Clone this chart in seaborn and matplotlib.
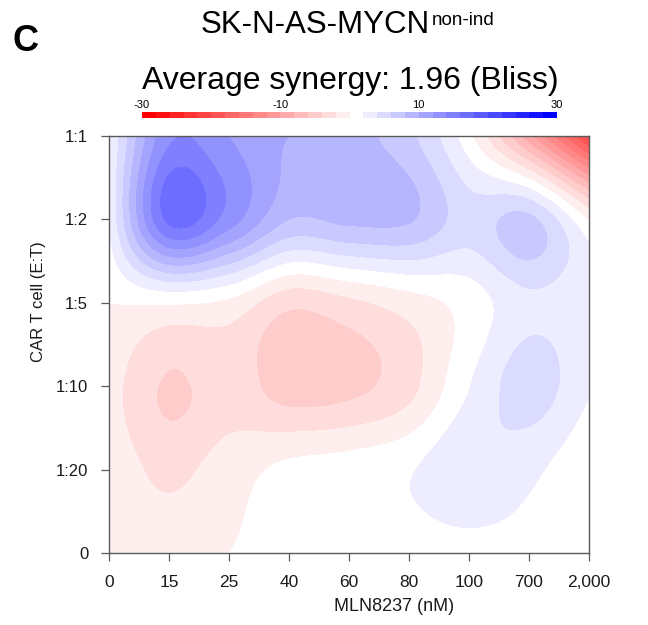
import numpy as np
import matplotlib
matplotlib.use("Agg")
import matplotlib.pyplot as plt
import seaborn as sns

# ---------------- data ----------------
x_doses = ['0', '15', '25', '40', '60', '80', '100', '700', '2,000']
et_ratios = ['0', '1:20', '1:10', '1:5', '1:2', '1:1']

# Bliss synergy scores, one list per E:T ratio (bottom row to top row),
# one value per MLN8237 dose (left to right)
syn_et_0    = [-0.8, -0.8, 0.0, 1.0, 1.0, 1.0, 1.0, 1.0, 1.0]
syn_et_1_20 = [-0.8, -2.5, -1.0, 0.5, 1.0, 1.8, 3.8, 2.5, 0.3]
syn_et_1_10 = [-1.2, -4.3, -3.0, -5.0, -4.6, -2.7, 1.9, 5.0, 2.2]
syn_et_1_5  = [0.0, 0.2, -0.5, -3.5, -2.5, -1.0, 0.8, 3.5, 2.6]
syn_et_1_2  = [2.0, 16.5, 13.0, 8.0, 8.5, 8.2, 5.0, 6.5, -0.2]
syn_et_1_1  = [2.0, 13.5, 12.0, 10.0, 8.8, 6.5, 0.5, -9.5, -21.0]

legend_ticks = [-30, -10, 10, 30]
title_main = "SK-N-AS-MYCN"
title_sup = "non-ind"
subtitle = "Average synergy: 1.96 (Bliss)"
x_title = "MLN8237 (nM)"
y_title = "CAR T cell (E:T)"

# ---------------- styling ----------------
sns.set_theme(style="white")
plt.rcParams["font.family"] = ["Liberation Sans", "DejaVu Sans"]

W, H = 648, 625
fig = plt.figure(figsize=(W / 100, H / 100), dpi=100)


def fx(px):
    return px / W


def fy(py):
    return (H - py) / H


Z = np.array([syn_et_0, syn_et_1_20, syn_et_1_10, syn_et_1_5, syn_et_1_2, syn_et_1_1])
ny, nx = Z.shape


def catmull_rom(n, m):
    """Weights of a Catmull-Rom spline through n equally spaced nodes."""
    s = np.linspace(0, n - 1, m)
    Wt = np.zeros((m, n))

    def tangent(r, k, c):
        if 0 < k < n - 1:
            Wt[r, k + 1] += c / 2
            Wt[r, k - 1] -= c / 2
        elif k == 0:
            Wt[r, 1] += c
            Wt[r, 0] -= c
        else:
            Wt[r, k] += c
            Wt[r, k - 1] -= c

    for r, sv in enumerate(s):
        i = min(int(np.floor(sv)), n - 2)
        t = sv - i
        Wt[r, i] += 2 * t**3 - 3 * t**2 + 1
        Wt[r, i + 1] += -2 * t**3 + 3 * t**2
        tangent(r, i, t**3 - 2 * t**2 + t)
        tangent(r, i + 1, t**3 - t**2)
    return s, Wt


xs, Wx = catmull_rom(nx, 400)
ys, Wy = catmull_rom(ny, 320)
Zs = Wy @ Z @ Wx.T

levels = np.arange(-30, 31, 2)
reds = sns.blend_palette(["#ffffff", "#ff0000"], 16)[1:][::-1]   # [-30,-28] ... [-2,0]
blues = sns.blend_palette(["#ffffff", "#0000ff"], 15)[1:]        # [2,4] ... [28,30]
colors = list(reds) + [(1, 1, 1)] + list(blues)

ax = fig.add_axes([fx(109), fy(553), (589 - 109) / W, (553 - 136) / H])
cs = ax.contourf(xs, ys, Zs, levels=levels, colors=colors)
ax.set_xlim(0, nx - 1)
ax.set_ylim(0, ny - 1)
ax.set_xticks(range(nx))
ax.set_xticklabels(x_doses)
ax.set_yticks(range(ny))
ax.set_yticklabels(et_ratios)
for sp in ax.spines.values():
    sp.set_visible(True)
    sp.set_color("#5a5a5a")
    sp.set_linewidth(1.0)
ax.tick_params(axis="both", direction="out", length=6, width=0.9, color="#5a5a5a",
               labelcolor="#1a1a1a")
ax.tick_params(axis="x", labelsize=12.5, pad=10, bottom=True)
ax.tick_params(axis="y", labelsize=12, pad=9, left=True)

# axis titles
fig.text(fx(394), fy(611), x_title, ha="center", va="baseline", fontsize=13, color="#1a1a1a")
fig.text(fx(39), fy(302), y_title, ha="center", va="center", rotation=90, fontsize=12,
         color="#1a1a1a")

# titles
fig.text(fx(13), fy(51), "C", ha="left", va="baseline", fontsize=26, fontweight="bold",
         color="black")
fig.text(fx(201), fy(33), title_main, ha="left", va="baseline", fontsize=22.5, color="black")
fig.text(fx(432), fy(25), title_sup, ha="left", va="baseline", fontsize=13.5, color="black")
fig.text(fx(350), fy(89), subtitle, ha="center", va="baseline", fontsize=23, color="black")

# colour legend
cax = fig.add_axes([fx(142), fy(118), (557 - 142) / W, 6 / H])
cb = fig.colorbar(cs, cax=cax, orientation="horizontal", ticks=legend_ticks)
cb.outline.set_visible(False)
cax.xaxis.set_ticks_position("top")
cax.tick_params(length=0, pad=1.5, labelsize=8, labelcolor="black")
cax.set_xticklabels([str(t) for t in legend_ticks])

fig.savefig("out.png", dpi=100)
